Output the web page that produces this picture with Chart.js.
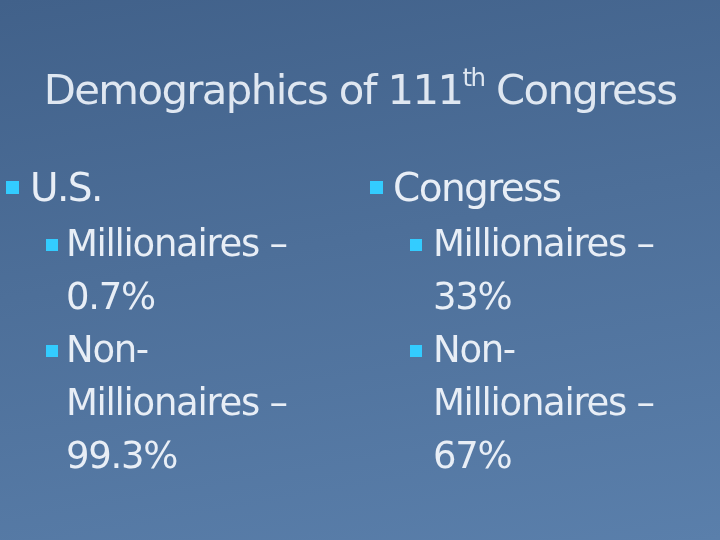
<!DOCTYPE html>
<html><head><meta charset="utf-8">
<script src="https://cdn.jsdelivr.net/npm/chart.js@4"></script>
<style>
html,body{margin:0;padding:0;}
body{width:720px;height:540px;overflow:hidden;position:relative;
background:linear-gradient(170deg,#41618a 0%,#4d6f99 45%,#5a7fab 100%);
font-family:"DejaVu Sans",Verdana,sans-serif;color:#e8eef6;}
#bg{position:absolute;left:0;top:0;width:720px;height:540px;}
.t{position:absolute;white-space:nowrap;line-height:1;}
.title{left:0;width:720px;text-align:center;top:66px;font-size:41px;letter-spacing:-1.6px;color:#dfe7f1;transform:scaleX(1.02);}
.title sup{font-size:24px;vertical-align:18px;}
.h{font-size:39px;letter-spacing:-1.6px;}
.s{font-size:37px;letter-spacing:-1.3px;}
.b1,.b2{position:absolute;background:#33ccff;}
.b1{width:13px;height:13px;}
.b2{width:12px;height:12px;}
</style></head><body>
<canvas id="bg" width="720" height="540"></canvas>
<div id="txt"></div>
<script>
const groups=['U.S.','Congress'];
const millionaires=[0.7,33];
const nonMillionaires=[99.3,67];
new Chart(document.getElementById('bg'),{type:'bar',
 data:{labels:groups,datasets:[{data:millionaires,backgroundColor:'rgba(0,0,0,0)'},{data:nonMillionaires,backgroundColor:'rgba(0,0,0,0)'}]},
 options:{responsive:false,animation:false,events:[],plugins:{legend:{display:false},tooltip:{enabled:false}},scales:{x:{display:false},y:{display:false}}}});
const t=document.getElementById('txt');
let h='<div class="t title">Demographics of 111<sup>th</sup> Congress</div>';
const cols=[{bx:6,tx:30,sbx:46,stx:66},{bx:370,tx:393,sbx:410,stx:433}];
groups.forEach((g,i)=>{const c=cols[i];
 h+=`<div class="b1" style="left:${c.bx}px;top:181px"></div><div class="t h" style="left:${c.tx}px;top:168px">${g}</div>`;
 const lines=[['Millionaires –',true],[millionaires[i]+'%',false],['Non-',true],['Millionaires –',false],[nonMillionaires[i]+'%',false]];
 lines.forEach((l,j)=>{const y=225+j*53;
  if(l[1])h+=`<div class="b2" style="left:${c.sbx}px;top:${y+14}px"></div>`;
  h+=`<div class="t s" style="left:${c.stx}px;top:${y}px">${l[0]}</div>`;});
});
t.innerHTML=h;
</script></body></html>
